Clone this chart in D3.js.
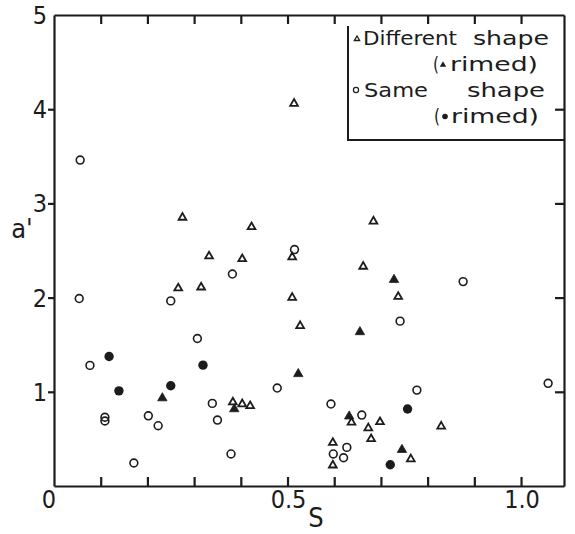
<!DOCTYPE html>
<html><head><meta charset="utf-8">
<script src="https://cdn.jsdelivr.net/npm/d3@7"></script>
<style>
html,body{margin:0;padding:0;background:#fff;}
svg{display:block;}
text{font-family:"DejaVu Sans Condensed","DejaVu Sans",sans-serif;fill:#1c1c1c;}
</style></head>
<body>
<script>
// Different shape (open triangles): [S, a']
const diffShape = [
  [0.275,2.85],[0.266,2.10],[0.315,2.11],[0.332,2.44],[0.403,2.41],[0.423,2.75],
  [0.383,0.89],[0.403,0.87],[0.420,0.85],[0.514,4.06],[0.510,2.43],[0.510,2.00],
  [0.527,1.70],[0.662,2.33],[0.684,2.81],[0.737,2.01],[0.597,0.46],[0.597,0.22],
  [0.637,0.675],[0.673,0.615],[0.679,0.50],[0.698,0.68],[0.764,0.286],[0.829,0.633]
];
// Different shape, rimed (filled triangles)
const diffShapeRimed = [
  [0.232,0.933],[0.386,0.817],[0.523,1.19],[0.655,1.635],[0.728,2.19],[0.632,0.74],[0.745,0.385]
];
// Same shape (open circles)
const sameShape = [
  [0.056,3.46],[0.054,1.99],[0.077,1.28],[0.109,0.73],[0.109,0.69],[0.171,0.244],
  [0.202,0.745],[0.223,0.64],[0.250,1.965],[0.307,1.566],[0.339,0.877],[0.350,0.70],
  [0.379,0.34],[0.382,2.25],[0.478,1.04],[0.515,2.51],[0.593,0.87],[0.598,0.34],
  [0.627,0.41],[0.620,0.30],[0.659,0.753],[0.741,1.75],[0.777,1.018],[0.876,2.17],[1.058,1.09]
];
// Same shape, rimed (filled circles)
const sameShapeRimed = [
  [0.118,1.375],[0.139,1.01],[0.250,1.064],[0.319,1.283],[0.757,0.817],[0.720,0.226]
];
const xTicks = [0.1,0.2,0.3,0.4,0.5,0.6,0.7,0.8,0.9,1.0];
const yTicks = [1,2,3,4];
const xLabels = ["0","0.5","1.0"];
const yLabels = ["1","2","3","4","5"];

const W=575,H=534;
const ink="#1c1c1c";
const svg=d3.select("body").append("svg").attr("width",W).attr("height",H);
svg.append("rect").attr("width",W).attr("height",H).attr("fill","#fff");

const xMax=1.092;
const x=d3.scaleLinear().domain([0,xMax]).range([54,564]);
const y=d3.scaleLinear().domain([0,5]).range([486,15]);

// axes with the library's own axis generators (domain lines form the frame)
function styleAxis(g){
  g.select(".domain").attr("stroke",ink).attr("stroke-width",2.2);
  g.selectAll(".tick line").attr("stroke",ink).attr("stroke-width",2.2);
  g.selectAll(".tick text").remove();
}
svg.append("g").attr("transform",`translate(0,${y(0)})`)
  .call(d3.axisBottom(x).tickValues(xTicks).tickSizeInner(-9).tickSizeOuter(0)).call(styleAxis);
svg.append("g").attr("transform",`translate(0,${y(5)})`)
  .call(d3.axisTop(x).tickValues(xTicks).tickSizeInner(-9).tickSizeOuter(0)).call(styleAxis);
svg.append("g").attr("transform",`translate(${x(0)},0)`)
  .call(d3.axisLeft(y).tickValues(yTicks).tickSizeInner(6).tickSizeOuter(0)).call(styleAxis);
svg.append("g").attr("transform",`translate(${x(xMax)},0)`)
  .call(d3.axisRight(y).tickValues(yTicks).tickSizeInner(-9).tickSizeOuter(0)).call(styleAxis);

// tick labels
const xLab=d3.scalePoint().domain(xLabels).range([x(0),x(1.0)]);
svg.selectAll(".xl").data(xLabels).enter().append("text")
  .attr("x",d=>xLab(d)+(d==="0"?-5:1)).attr("y",508).attr("text-anchor","middle")
  .attr("font-size",25).text(d=>d);
svg.selectAll(".yl").data(yLabels).enter().append("text")
  .attr("x",47).attr("y",d=>y(+d)+9).attr("text-anchor","end")
  .attr("font-size",25).text(d=>d);

// axis titles
svg.append("text").attr("x",316).attr("y",527).attr("text-anchor","middle").attr("font-size",27).text("S");
svg.append("text").attr("x",22).attr("y",238).attr("text-anchor","middle").attr("font-size",27).text("a'");

// points
const tri=d3.symbol().type(d3.symbolTriangle);
svg.append("g").selectAll("path").data(diffShape).enter().append("path")
  .attr("d",tri.size(26)()).attr("transform",d=>`translate(${x(d[0])},${y(d[1])})`)
  .attr("fill","none").attr("stroke",ink).attr("stroke-width",1.8);
svg.append("g").selectAll("path").data(diffShapeRimed).enter().append("path")
  .attr("d",tri.size(38)()).attr("transform",d=>`translate(${x(d[0])},${y(d[1])})`)
  .attr("fill",ink).attr("stroke",ink).attr("stroke-width",0.8);
svg.append("g").selectAll("circle").data(sameShape).enter().append("circle")
  .attr("cx",d=>x(d[0])).attr("cy",d=>y(d[1])).attr("r",3.9)
  .attr("fill","none").attr("stroke",ink).attr("stroke-width",1.6);
svg.append("g").selectAll("circle").data(sameShapeRimed).enter().append("circle")
  .attr("cx",d=>x(d[0])).attr("cy",d=>y(d[1])).attr("r",4.7).attr("fill",ink);

// legend
const lg=svg.append("g");
lg.append("line").attr("x1",348).attr("x2",348).attr("y1",26).attr("y2",140).attr("stroke",ink).attr("stroke-width",2);
lg.append("line").attr("x1",347).attr("x2",x(xMax)).attr("y1",140).attr("y2",140).attr("stroke",ink).attr("stroke-width",2);
const fs=20;
function word(t,a,b,yb){lg.append("text").attr("x",a).attr("y",yb).attr("font-size",fs)
  .attr("textLength",b-a).attr("lengthAdjust","spacingAndGlyphs").text(t);}
lg.append("path").attr("d",d3.symbol().type(d3.symbolTriangle).size(12)()).attr("transform","translate(357,39)")
  .attr("fill","none").attr("stroke",ink).attr("stroke-width",1.3);
word("Different",363,457,45); word("shape",473,549,45);
word("(",433,439,71);
lg.append("path").attr("d",d3.symbol().type(d3.symbolTriangle).size(18)()).attr("transform","translate(443,65)").attr("fill",ink);
word("rimed)",450,538,71);
lg.append("circle").attr("cx",356).attr("cy",90).attr("r",2.6).attr("fill","none").attr("stroke",ink).attr("stroke-width",1.2);
word("Same",364,428,97); word("shape",467,545,97);
word("(",434,440,123);
lg.append("circle").attr("cx",445).attr("cy",116.5).attr("r",2.8).attr("fill",ink);
word("rimed)",451,539,123);
</script>
</body></html>
